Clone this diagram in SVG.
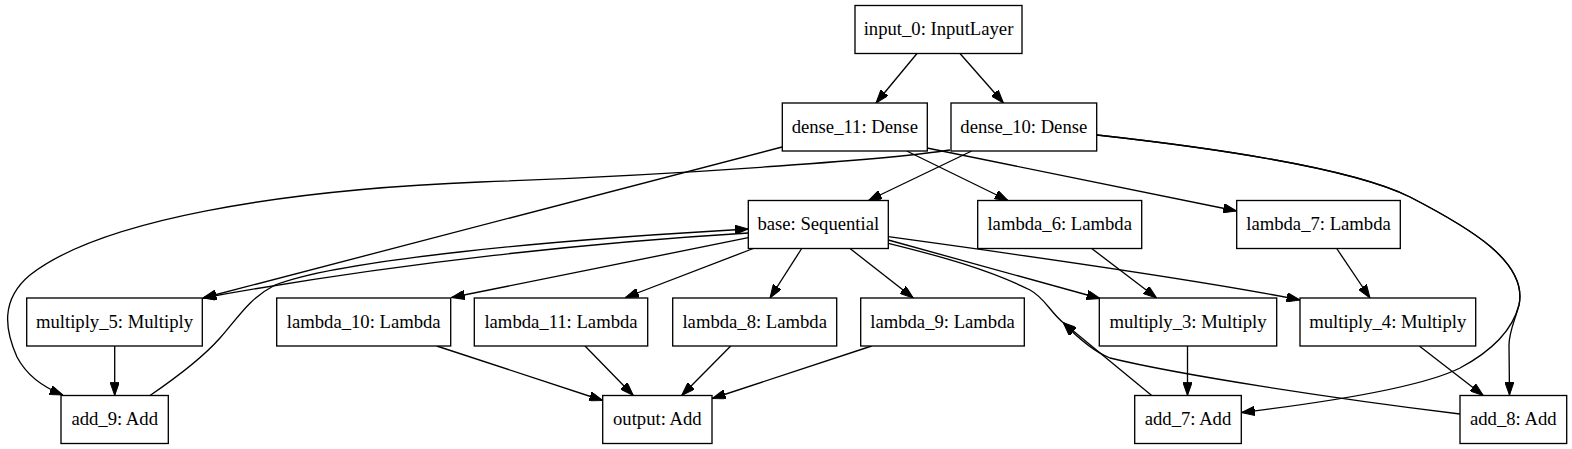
<svg xmlns="http://www.w3.org/2000/svg" width="1572" height="449" viewBox="0 0 1572 449">
<defs>
<style>
.node rect{fill:#ffffff;stroke:#000000;stroke-width:1.33}
.node text{font-family:'Liberation Serif','DejaVu Serif',serif;font-size:18.67px;fill:#000000;text-anchor:middle}
.edges path{fill:none;stroke:#000000;stroke-width:1.33}
.edges path.arr{marker-end:url(#ah)}
</style>
<marker id="ah" viewBox="0 0 13.33 9.33" refX="13.33" refY="4.67" markerWidth="13.33" markerHeight="9.33" markerUnits="userSpaceOnUse" orient="auto">
<path d="M0,0 L13.33,4.67 L0,9.33 z" fill="#000000" stroke="#000000" stroke-width="1"/>
</marker>
</defs>
<rect x="0" y="0" width="1572" height="449" fill="#ffffff"/>
<g id="connectors" class="edges">
<path class="arr" d="M917,53.5 L876,103"/>
<path class="arr" d="M960,53.5 L1003.5,103"/>
<path class="arr" d="M782,147 L203,298"/>
<path class="arr" d="M906.7,151 L1008,200.5"/>
<path class="arr" d="M927,148 L1236.7,211"/>
<path class="arr" d="M971.7,151 L868.5,200.5"/>
<path class="arr" d="M950,150 C 900,158 700,174 480,182 C 280,190 100,220 30,275 C 0,300 5,330 17,357 C 27,376 45,388 63,395"/>
<path class="arr" d="M1097,135 C 1250,152 1360,172 1410,197 C 1470,228 1528,262 1519,305 C 1515,320 1509,332 1509,345 L1509.5,395"/>
<path class="arr" d="M1097,135 C 1250,152 1360,172 1410,197 C 1470,228 1528,262 1519,305 C 1512,332 1490,352 1460,368 C 1420,388 1320,403 1241.5,412.5"/>
<path class="arr" d="M1091.7,248.5 L1156.7,298"/>
<path class="arr" d="M1336.7,248.5 L1370,298"/>
<path class="arr" d="M1187.5,346 L1187.5,395.5"/>
<path class="arr" d="M1419.3,346 L1483.3,395.5"/>
<path class="arr" d="M114.7,346 L114.7,395.5"/>
<path class="arr" d="M436.7,346 L602.7,400.5"/>
<path class="arr" d="M585,346 L633.3,395.5"/>
<path class="arr" d="M730.7,346 L681.7,395.5"/>
<path class="arr" d="M871.7,346 L712.3,398.5"/>
<path class="arr" d="M748.3,237.7 L451.5,297.5"/>
<path class="arr" d="M753.3,248.5 L625.5,297.5"/>
<path class="arr" d="M801.7,248.5 L770,298"/>
<path class="arr" d="M850,248.5 L913.3,298"/>
<path class="arr" d="M888.3,240 L1100,298.5"/>
<path class="arr" d="M888.3,236.7 C 1000,252 1200,280 1300,300"/>
<path class="arr" d="M748.3,233 C 600,242 400,262 203,298"/>
<path class="arr" d="M150,395.5 C 180,375 205,355 220,338 C 240,315 250,298 275,285 C 340,260 550,240 748.3,229"/>
<path d="M888.3,243.3 C 940,256 990,270 1030,290 C 1045,298 1050,312 1063.3,322.7"/>
<path class="arr" d="M1151.7,395.5 L1063.3,322.7"/>
<path class="arr" d="M1460,414 C 1330,398 1180,375 1110,358 C 1095,352 1080,340 1063.3,322.7"/>
</g>
<g id="input_0" class="node"><rect x="855" y="5.5" width="167" height="48"/><text x="938.5" y="35">input_0: InputLayer</text></g>
<g id="dense_11" class="node"><rect x="782.3" y="103" width="145" height="48"/><text x="854.8" y="132.5">dense_11: Dense</text></g>
<g id="dense_10" class="node"><rect x="951" y="103" width="145.7" height="48"/><text x="1023.8" y="132.5">dense_10: Dense</text></g>
<g id="base" class="node"><rect x="748.3" y="200.5" width="140" height="48"/><text x="818.3" y="230">base: Sequential</text></g>
<g id="lambda_6" class="node"><rect x="977.7" y="200.5" width="164" height="48"/><text x="1059.7" y="230">lambda_6: Lambda</text></g>
<g id="lambda_7" class="node"><rect x="1236.7" y="200.5" width="163.6" height="48"/><text x="1318.5" y="230">lambda_7: Lambda</text></g>
<g id="multiply_5" class="node"><rect x="26.7" y="298" width="175.6" height="48"/><text x="114.5" y="327.5">multiply_5: Multiply</text></g>
<g id="lambda_10" class="node"><rect x="276.7" y="298" width="174" height="48"/><text x="363.7" y="327.5">lambda_10: Lambda</text></g>
<g id="lambda_11" class="node"><rect x="474.3" y="298" width="173.4" height="48"/><text x="561" y="327.5">lambda_11: Lambda</text></g>
<g id="lambda_8" class="node"><rect x="672.7" y="298" width="164" height="48"/><text x="754.7" y="327.5">lambda_8: Lambda</text></g>
<g id="lambda_9" class="node"><rect x="860.7" y="298" width="163.6" height="48"/><text x="942.5" y="327.5">lambda_9: Lambda</text></g>
<g id="multiply_3" class="node"><rect x="1099.3" y="298" width="177.4" height="48"/><text x="1188" y="327.5">multiply_3: Multiply</text></g>
<g id="multiply_4" class="node"><rect x="1300" y="298" width="175.7" height="48"/><text x="1387.8" y="327.5">multiply_4: Multiply</text></g>
<g id="add_9" class="node"><rect x="61" y="395.5" width="107.3" height="48"/><text x="114.7" y="425">add_9: Add</text></g>
<g id="output" class="node"><rect x="602.7" y="395.5" width="109.3" height="48"/><text x="657.3" y="425">output: Add</text></g>
<g id="add_7" class="node"><rect x="1134.7" y="395.5" width="106.6" height="48"/><text x="1188" y="425">add_7: Add</text></g>
<g id="add_8" class="node"><rect x="1460" y="395.5" width="106.7" height="48"/><text x="1513.3" y="425">add_8: Add</text></g>
</svg>
